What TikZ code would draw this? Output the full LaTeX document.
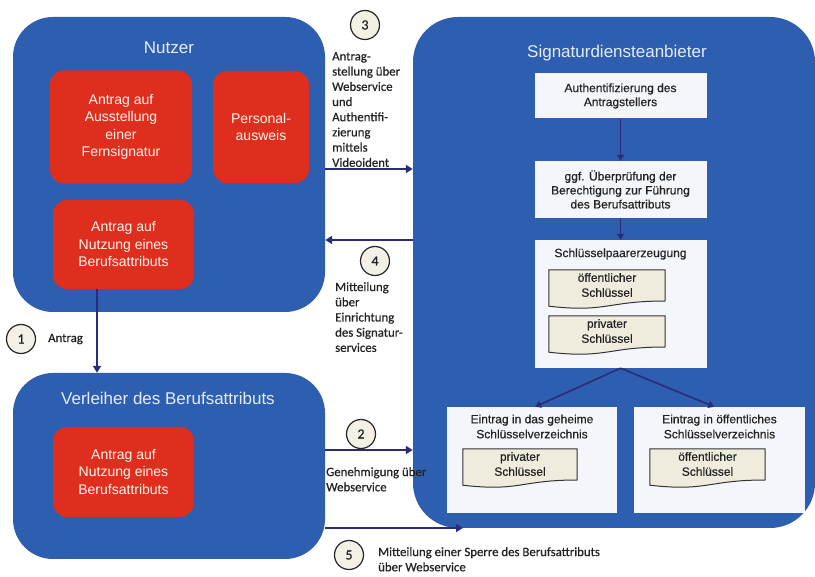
\documentclass[tikz,border=0pt]{standalone}
\usepackage{fontspec}
\setmainfont{Liberation Sans}
\newfontfamily\labfont[FakeBold=0.6]{Carlito}
\newfontfamily\boxfont[FakeBold=0.5]{Liberation Sans}
\usetikzlibrary{arrows.meta,calc}
\definecolor{bluebox}{RGB}{46,94,176}
\definecolor{redbox}{RGB}{224,46,30}
\definecolor{whitebox}{RGB}{244,246,251}
\definecolor{docfill}{RGB}{239,236,222}
\definecolor{arrowc}{RGB}{43,43,124}
\definecolor{txt}{RGB}{35,35,35}
\definecolor{circfill}{RGB}{243,241,230}
\definecolor{titlec}{RGB}{228,236,248}
\definecolor{redtext}{RGB}{255,246,236}
\pgfdeclarelayer{fg}
\pgfsetlayers{main,fg}
\newcommand{\docpath}[1]{%
  \filldraw[docshape] let \p1=(#1.north west), \p2=(#1.south east), \p3=(#1.south) in
    (\x1,\y1) -- (\x2,\y1) -- (\x2,\y2-0.8pt)
    .. controls (\x3,\y2-0.8pt) and (\x3,\y2-12.6pt) .. (\x1,\y2-6pt) -- cycle;}
\begin{document}
\begin{tikzpicture}[x=1pt,y={(0pt,-1pt)},
  bluebox/.style={fill=bluebox, rounded corners=40pt, inner sep=0pt},
  redbox/.style={fill=redbox, rounded corners=14pt, text=redtext, align=center,
    font=\fontsize{14}{17.5}\selectfont, inner sep=0pt},
  boxtitle/.style={text=titlec, font=\fontsize{17}{20}\selectfont, inner sep=0pt},
  wbox/.style={fill=whitebox, inner sep=0pt, align=center, text=txt,
    font=\boxfont\fontsize{12}{14}\selectfont},
  wtitle/.style={align=center, text=txt, font=\boxfont\fontsize{12}{15}\selectfont, inner sep=0pt},
  doctext/.style={align=center, text=txt, font=\boxfont\fontsize{12}{15}\selectfont, inner sep=0pt},
  docshape/.style={fill=docfill, draw=black!80, line width=1pt},
  arr/.style={draw=arrowc, line width=1.8pt, -{Triangle[length=7pt,width=8pt]}},
  inarr/.style={draw=arrowc, line width=1.6pt, -{Triangle[length=6pt,width=7pt]}},
  num/.style={circle, draw=black!85, fill=circfill, line width=1.2pt, minimum size=29pt,
    inner sep=0pt, font=\labfont\fontsize{14}{14}\selectfont, text=txt},
  lab/.style={align=left, anchor=north west, font=\labfont\fontsize{12.8}{15.2}\selectfont,
    text=txt, inner sep=0pt}]
\useasboundingbox (0,0) rectangle (815,577);
\fill[white] (0,0) rectangle (815,577);

% Nutzer
\node[bluebox, minimum width=312pt, minimum height=295pt] (nutzer) at (169,164.5) {};
\node[boxtitle] (nutzertitle) at (169,48) {Nutzer};
\node[redbox, minimum width=142pt, minimum height=113pt] (fern) at (121,127)
  {Antrag auf\\Ausstellung\\einer\\Fernsignatur};
\node[redbox, minimum width=96pt, minimum height=112pt] (perso) at (261,127)
  {Personal-\\ausweis};
\node[redbox, minimum width=141pt, minimum height=89pt] (nutzung) at (123.5,244.5)
  {Antrag auf\\Nutzung eines\\Berufsattributs};

% Verleiher
\node[bluebox, minimum width=312pt, minimum height=186pt] (verl) at (169,466) {};
\node[boxtitle] (verltitle) at (168,398) {Verleiher des Berufsattributs};
\node[redbox, minimum width=141pt, minimum height=90pt] (verlantrag) at (123.5,472)
  {Antrag auf\\Nutzung eines\\Berufsattributs};

% Signaturdiensteanbieter
\node[bluebox, rounded corners=45pt, minimum width=402pt, minimum height=511pt] (sig) at (614,272.5) {};
\node[boxtitle] (sigtitle) at (617,53) {Signaturdiensteanbieter};

\node[wbox, minimum width=172pt, minimum height=45pt] (auth) at (620.5,96)
  {Authentifizierung des\\Antragstellers};
\node[wbox, minimum width=172pt, minimum height=57pt] (ggf) at (620.5,189.5)
  {ggf. Überprüfung der\\Berechtigung zur Führung\\des Berufsattributs};
\node[wbox, minimum width=172pt, minimum height=128pt] (keygen) at (620.5,304) {};
\node[wtitle] (keygentitle) at (620.5,254) {Schlüsselpaarerzeugung};
\node[wbox, minimum width=170pt, minimum height=106pt] (geheim) at (532,460) {};
\node[wtitle] (geheimtitle) at (532,426.5) {Eintrag in das geheime\\Schlüsselverzeichnis};
\node[wbox, minimum width=171pt, minimum height=106pt] (oeff) at (719.5,460) {};
\node[wtitle] (oefftitle) at (719.5,426.5) {Eintrag in öffentliches\\Schlüsselverzeichnis};

\begin{pgfonlayer}{fg}
\node[doctext, minimum width=116pt, minimum height=30pt] (docA) at (607,285) {öffentlicher\\Schlüssel};
\node[doctext, minimum width=116pt, minimum height=30pt] (docB) at (607,331) {privater\\Schlüssel};
\node[doctext, minimum width=114pt, minimum height=30pt] (docC) at (520,464) {privater\\Schlüssel};
\node[doctext, minimum width=115pt, minimum height=30pt] (docD) at (707.5,464) {öffentlicher\\Schlüssel};
\end{pgfonlayer}
\docpath{docA}
\docpath{docB}
\docpath{docC}
\docpath{docD}

% inner arrows
\draw[inarr] (auth.south) -- (ggf.north);
\draw[inarr] (ggf.south) -- (keygen.north);
\draw[inarr] (keygen.south) -- ($(geheim.north west)!0.518!(geheim.north east)$);
\draw[inarr] (keygen.south) -- ($(oeff.north west)!0.47!(oeff.north east)$);

% outer arrows
\coordinate (y3) at (0,169);
\coordinate (y4) at (0,240);
\coordinate (y2) at (0,450);
\coordinate (x1) at (97,0);
\coordinate (end5) at (463,528);
\draw[arr] (nutzung.south -| x1) -- (verl.north -| x1);
\draw[arr] (nutzer.east |- y3) -- (sig.west |- y3);
\draw[arr] (sig.west |- y4) -- (nutzer.east |- y4);
\draw[arr] (verl.east |- y2) -- (sig.west |- y2);
\draw[arr] (verl.east |- end5) -- (end5);

% numbers
\node[num] (c1) at (21,339) {1};
\node[num] (c2) at (361,434) {2};
\node[num] (c3) at (365,25) {3};
\node[num] (c4) at (375,261) {4};
\node[num] (c5) at (349,555) {5};

% labels
\node[lab, anchor=west] (l1) at (48,339) {Antrag};
\node[lab] (l3) at (332,52) {Antrag-\\stellung über\\Webservice\\und\\Authentifi-\\zierung\\mittels\\Videoident};
\node[lab] (l4) at (335,282) {Mitteilung\\über\\Einrichtung\\des Signatur-\\services};
\node[lab] (l2) at (326,467) {Genehmigung über\\Webservice};
\node[lab] (l5) at (378,547) {Mitteilung einer Sperre des Berufsattributs\\über Webservice};
\end{tikzpicture}
\end{document}
